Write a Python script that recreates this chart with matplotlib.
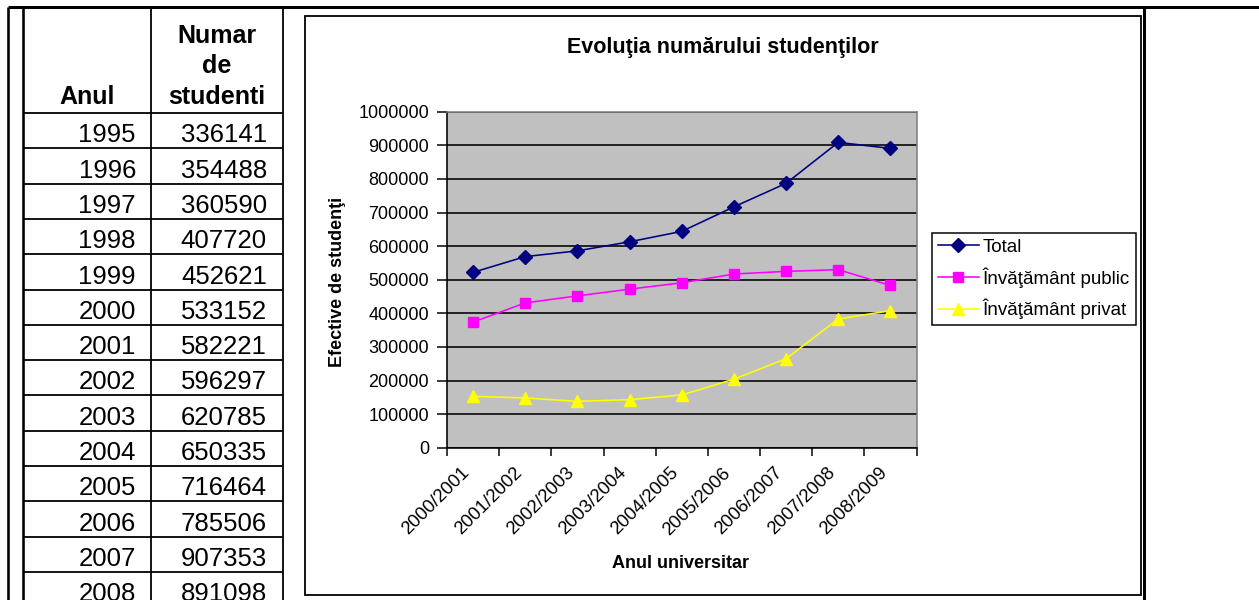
import numpy as np
import matplotlib
matplotlib.use("Agg")
import matplotlib.pyplot as plt
from matplotlib.patches import Rectangle
from matplotlib.transforms import ScaledTranslation

plt.rcParams['font.family'] = ['Liberation Sans', 'DejaVu Sans']

# Table data: year and number of students
years = [1995, 1996, 1997, 1998, 1999, 2000, 2001, 2002, 2003, 2004, 2005, 2006, 2007, 2008]
students = [336141, 354488, 360590, 407720, 452621, 533152, 582221, 596297, 620785,
            650335, 716464, 785506, 907353, 891098]

# Chart data by academic year
academic_years = ['2000/2001', '2001/2002', '2002/2003', '2003/2004', '2004/2005',
                  '2005/2006', '2006/2007', '2007/2008', '2008/2009']
total = [522000, 569000, 586000, 613000, 644000, 717000, 787000, 909000, 891000]
public = [374000, 431000, 452000, 472000, 491000, 517000, 525000, 530000, 483000]
private = [153000, 148000, 138000, 143000, 157000, 204000, 265000, 383000, 408000]

W, H = 1259, 600
fig = plt.figure(figsize=(W / 100, H / 100), dpi=100)
fig.patch.set_facecolor('white')


def fx(px):
    return px / W


def fy(py):
    return 1 - py / H


PX = 0.72  # points per pixel

# ---- page layer in pixel coordinates (table grid, frames) ----
ov = fig.add_axes([0, 0, 1, 1])
ov.set_xlim(0, W)
ov.set_ylim(H, 0)
ov.axis('off')
ov.set_zorder(0)

thick = 2.6 * PX
thin = 1.8 * PX
ov.plot([8, W], [7, 7], color='black', lw=3 * PX, solid_capstyle='butt')
ov.plot([8, 8], [7, H], color='black', lw=thick, solid_capstyle='butt')
ov.plot([23, 23], [7, H], color='black', lw=thick, solid_capstyle='butt')
ov.plot([151, 151], [7, H], color='black', lw=thin, solid_capstyle='butt')
ov.plot([283, 283], [7, H], color='black', lw=thin, solid_capstyle='butt')
ov.plot([1144, 1144], [7, H], color='black', lw=3 * PX, solid_capstyle='butt')

header_bottom = 113
row_h = 35.3
for i in range(len(years) + 1):
    yy = header_bottom + i * row_h
    ov.plot([23, 283], [yy, yy], color='black', lw=thin, solid_capstyle='butt')

ov.text(87, 104, 'Anul', ha='center', va='baseline', fontsize=18, fontweight='bold')
for txt, base in zip(['Numar', 'de', 'studenti'], [43, 73, 104]):
    ov.text(217, base, txt, ha='center', va='baseline', fontsize=18, fontweight='bold')

for i, (yr, n) in enumerate(zip(years, students)):
    base = header_bottom + (i + 1) * row_h - 6
    ov.text(136, base, str(yr), ha='right', va='baseline', fontsize=18.5)
    ov.text(267, base, str(n), ha='right', va='baseline', fontsize=18.5)

# chart frame
ov.add_patch(Rectangle((305, 16), 1141 - 305, 595 - 16, fill=False,
                       edgecolor='black', lw=1.8 * PX))

# ---- chart ----
ax = fig.add_axes([fx(447), fy(447.7), (916.5 - 447) / W, 335.9 / H])
ax.set_zorder(2)
ax.set_facecolor('#C0C0C0')
x = np.arange(len(academic_years))

ax.plot(x, total, color='#000080', lw=1.6 * PX, marker='D', markersize=7,
        markerfacecolor='#000080', markeredgecolor='#000080', label='Total', zorder=5)
ax.plot(x, public, color='#FF00FF', lw=1.6 * PX, marker='s', markersize=6.5,
        markerfacecolor='#FF00FF', markeredgecolor='#FF00FF',
        label='Învăţământ public', zorder=5)
ax.plot(x, private, color='#FFFF00', lw=1.6 * PX, marker='^', markersize=8,
        markerfacecolor='#FFFF00', markeredgecolor='#FFFF00',
        label='Învăţământ privat', zorder=5)

ax.set_xlim(-0.5, len(academic_years) - 0.5)
ax.set_ylim(0, 1000000)
ax.set_yticks(np.arange(0, 1000001, 100000))
ax.set_yticklabels([str(v) for v in range(0, 1000001, 100000)], fontsize=13)
ax.tick_params(axis='y', direction='out', length=7, width=1.5 * PX, pad=6, color='black')

ax.set_xticks(x)
ax.set_xticklabels(academic_years, rotation=45, ha='right', rotation_mode='anchor',
                   fontsize=13.3)
ax.tick_params(axis='x', which='major', length=0, pad=12)
shift = ScaledTranslation(-12 / 100, 0, fig.dpi_scale_trans)
for lbl in ax.get_xticklabels():
    lbl.set_transform(lbl.get_transform() + shift)
ax.set_xticks(np.arange(-0.5, len(academic_years)), minor=True)
ax.tick_params(axis='x', which='minor', direction='out', length=6, width=1.5 * PX,
               color='black')

ax.grid(axis='y', color='black', lw=1.6 * PX)
ax.set_axisbelow(True)
for side in ['top', 'right']:
    ax.spines[side].set_color('#808080')
    ax.spines[side].set_linewidth(1.6 * PX)
for side in ['left', 'bottom']:
    ax.spines[side].set_color('black')
    ax.spines[side].set_linewidth(1.6 * PX)

fig.text(fx(723), fy(48), 'Evoluţia numărului studenţilor', ha='center', va='center',
         fontsize=15.5, fontweight='bold')
fig.text(fx(338), fy(282), 'Efective de studenţi', ha='center', va='center',
         rotation=90, fontsize=13, fontweight='bold')
fig.text(fx(680), fy(563), 'Anul universitar', ha='center', va='center',
         fontsize=13, fontweight='bold')

leg = ax.legend(loc='upper left', bbox_to_anchor=(fx(932), fy(233)),
                bbox_transform=fig.transFigure, fontsize=13.5, frameon=True,
                fancybox=False, edgecolor='black', framealpha=1, borderpad=0.3,
                handlelength=2.2, handletextpad=0.2, labelspacing=0.6,
                borderaxespad=0)
leg.get_frame().set_linewidth(1.5 * PX)

fig.savefig('out.png', dpi=100)
